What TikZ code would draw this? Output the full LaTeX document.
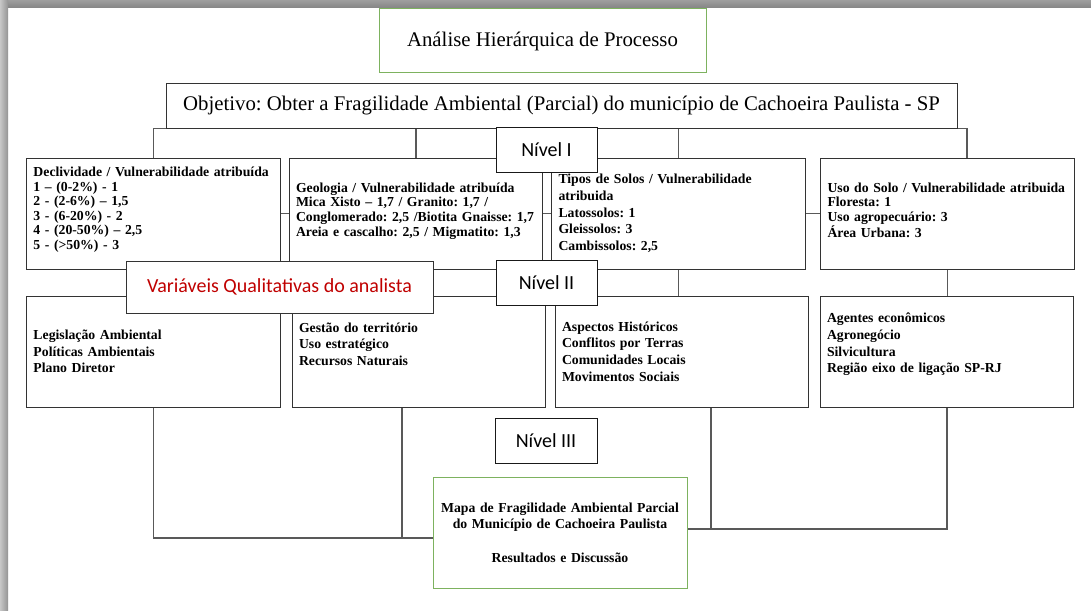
\documentclass[tikz,border=0pt]{standalone}
\usepackage{fontspec}
\setmainfont{Liberation Serif}
\newfontfamily\calibri{Carlito}
\usetikzlibrary{positioning,backgrounds}
\frenchspacing

\definecolor{boxgreen}{RGB}{125,178,95}
\definecolor{qualred}{RGB}{192,0,0}
\newcommand{\lowerby}[1]{\rule[-#1]{0pt}{0pt}}

\tikzset{
  basebox/.style={draw=black!80, line width=0.75pt, fill=white, inner sep=0pt},
  greenbox/.style={basebox, draw=boxgreen},
  infobox/.style={basebox, text width=180pt, inner xsep=5pt, minimum height=83.25pt,
    align=left, font=\bfseries\fontsize{10.3}{12.5}\selectfont},
  tightbox/.style={infobox, font=\bfseries\fontsize{10.3}{10.95}\selectfont},
  levelbox/.style={basebox, draw=black!90, minimum width=75.75pt, minimum height=33.75pt,
    font=\calibri\fontsize{15}{18}\selectfont},
  link/.style={draw=black!65, line width=0.9pt},
}

\begin{document}
\begin{tikzpicture}[x=0.75pt,y=-0.75pt]
\useasboundingbox (0,0) rectangle (1091,610);

% topo
\node[greenbox, minimum width=245.25pt, minimum height=48pt,
  font=\fontsize{15.6}{18}\selectfont] (titulo) at (542.5,41) {Análise Hierárquica de Processo};
\node[basebox, minimum width=593.25pt, minimum height=33.75pt,
  font=\fontsize{15.6}{18}\selectfont] (objetivo) at (561.5,105.5)
  {Objetivo: Obter a Fragilidade Ambiental (Parcial) do município de Cachoeira Paulista - SP};

% nivel I
\node[tightbox] (decl) at (153.5,213.5) {Declividade / Vulnerabilidade atribuída\\
  1 – (0-2\%) - 1\\ 2 - (2-6\%) – 1,5\\ 3 - (6-20\%) - 2\\ 4 - (20-50\%) – 2,5\\
  5 - (>50\%) - 3\lowerby{8pt}};
\node[tightbox] (geo) at (416,213.5) {Geologia / Vulnerabilidade atribuída\\
  Mica Xisto – 1,7 / Granito: 1,7 /\\ Conglomerado: 2,5 /Biotita Gnaisse: 1,7\\
  Areia e cascalho: 2,5 / Migmatito: 1,3\lowerby{6pt}};
\node[infobox] (tipos) at (678.5,213.5) {Tipos de Solos / Vulnerabilidade\\ atribuida\\
  Latossolos: 1\\ Gleissolos: 3\\ Cambissolos: 2,5};
\node[tightbox] (uso) at (947.5,213.5) {Uso do Solo / Vulnerabilidade atribuida\\
  Floresta: 1\\ Uso agropecuário: 3\\ Área Urbana: 3\lowerby{5pt}};

% nivel II
\node[infobox] (legis) at (153.5,351.5) {Legislação Ambiental\\ Políticas Ambientais\\ Plano Diretor};
\node[infobox] (gestao) at (419,351.5) {Gestão do território\\ Uso estratégico\\
  Recursos Naturais\lowerby{11pt}};
\node[infobox] (aspect) at (682,351.5) {Aspectos Históricos\\ Conflitos por Terras\\
  Comunidades Locais\\ Movimentos Sociais};
\node[infobox] (agentes) at (947,351.5) {Agentes econômicos\\ Agronegócio\\ Silvicultura\\
  Região eixo de ligação SP-RJ\lowerby{12.75pt}};

% nivel III
\node[greenbox, text width=190.5pt, minimum height=83.25pt, align=center,
  font=\bfseries\fontsize{10.3}{12.5}\selectfont] (mapa) at (560,532.5)
  {Mapa de Fragilidade Ambiental Parcial\\ do Município de Cachoeira Paulista\\[12.5pt]
  Resultados e Discussão};

% rotulos
\node[levelbox] (nivI) at (546.5,149.5) {Nível I};
\node[levelbox] (nivII) at (546.5,283) {Nível II};
\node[levelbox, minimum width=76.5pt] (nivIII) at (546,440.5) {Nível III};
\node[basebox, minimum width=230.25pt, minimum height=39pt, text=qualred,
  font=\calibri\fontsize{15}{18}\selectfont] (qualit) at (279.5,287) {Variáveis Qualitativas do analista};

\begin{scope}[on background layer]
  \fill[white] (0,0) rectangle (1091,610);
  \shade[top color=black!38, bottom color=black!48] (0,0) rectangle (1091,8);
  \shade[left color=black!22, right color=black!42] (0,0) rectangle (8,610);

  \draw[link] (objetivo.south) -| (decl.north);
  \draw[link] (objetivo.south) -| (geo.north);
  \draw[link] (objetivo.south) -| (tipos.north);
  \draw[link] (objetivo.south) -| ([xshift=14.6pt]uso.north);
  \draw[link] (decl.east) -- (uso.west);

  \draw[link] (decl.south) -- (legis.north);
  \draw[link] (geo.south) -- (geo.south |- gestao.north);
  \draw[link] (tipos.south) -- (tipos.south |- aspect.north);
  \draw[link] (uso.south) -- (uso.south |- agentes.north);

  \coordinate (mapaL) at ([yshift=-4.1pt]mapa.west);
  \coordinate (mapaR) at ([yshift=2.6pt]mapa.east);
  \draw[link] (legis.south) |- (mapaL);
  \draw[link] ([xshift=-12.75pt]gestao.south) -- ([xshift=-12.75pt]gestao.south |- mapaL);
  \draw[link] (agentes.south) |- (mapaR);
  \draw[link] ([xshift=21.75pt]aspect.south) -- ([xshift=21.75pt]aspect.south |- mapaR);
\end{scope}
\end{tikzpicture}
\end{document}
